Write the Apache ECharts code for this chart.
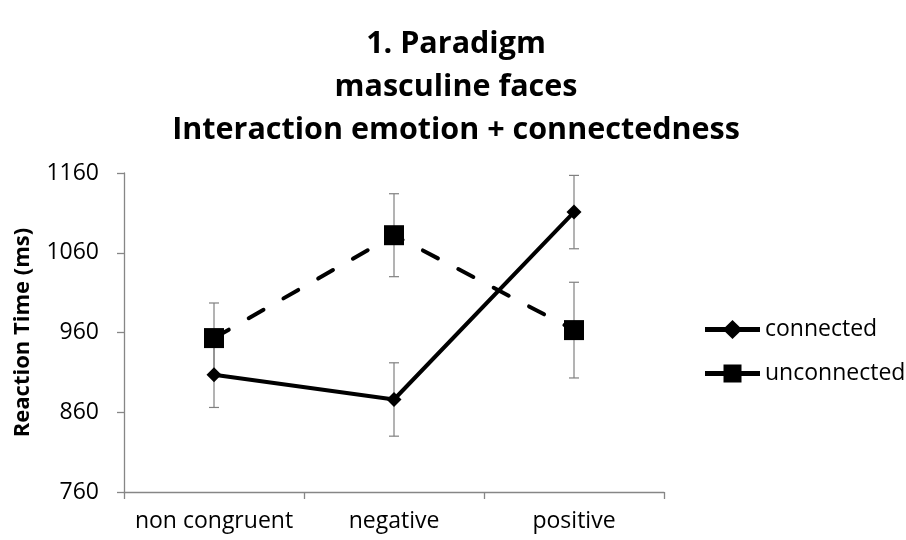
<!DOCTYPE html>
<html>
<head>
<meta charset="utf-8">
<script src="https://cdn.jsdelivr.net/npm/echarts@6/dist/echarts.min.js"></script>
<style>
  html, body { margin: 0; padding: 0; background: #fff; }
  #main { width: 906px; height: 540px; }
</style>
</head>
<body>
<div id="main"></div>
<script>
var categories = ['non congruent', 'negative', 'positive'];
var connected = [907, 876, 1111];
var connectedErr = [41, 46, 46];
var unconnected = [953, 1082, 963];
var unconnectedErr = [44, 52, 60];
var yTicks = [760, 860, 960, 1060, 1160];

var FONT = '"Open Sans"';

// legend icons: thick line with the marker in the middle (55 x 20 box)
var ICON_DIAMOND = 'path://M0 7.5H20.3L27.5 0.5L34.7 7.5H55V12.5H34.7L27.5 19.5L20.3 12.5H0Z';
var ICON_SQUARE = 'path://M0 7.5H18.5V1H36.5V7.5H55V12.5H36.5V19H18.5V12.5H0Z';

function errData(vals, errs) {
    return vals.map(function (v, i) {
        return [i, v - errs[i], v + errs[i]];
    });
}

// whiskers with small caps
function renderErr(params, api) {
    var x = api.value(0);
    var lo = api.coord([x, api.value(1)]);
    var hi = api.coord([x, api.value(2)]);
    var cap = 5;
    var style = { stroke: '#808080', lineWidth: 1.2 };
    return {
        type: 'group',
        children: [
            { type: 'line', shape: { x1: lo[0], y1: lo[1], x2: hi[0], y2: hi[1] }, style: style },
            { type: 'line', shape: { x1: lo[0] - cap, y1: lo[1], x2: lo[0] + cap, y2: lo[1] }, style: style },
            { type: 'line', shape: { x1: hi[0] - cap, y1: hi[1], x2: hi[0] + cap, y2: hi[1] }, style: style }
        ]
    };
}

var myChart = echarts.init(document.getElementById('main'));
var option = {
    animation: false,
    backgroundColor: '#fff',
    textStyle: { fontFamily: FONT },
    title: {
        text: '1. Paradigm\nmasculine faces\nInteraction emotion + connectedness',
        left: 451,
        textAlign: 'center',
        top: 18,
        textStyle: {
            fontFamily: FONT,
            fontSize: 30.5,
            fontWeight: 'bold',
            color: '#000',
            lineHeight: 43
        }
    },
    legend: {
        orient: 'vertical',
        left: 700,
        top: 313,
        itemWidth: 55,
        itemHeight: 20,
        itemGap: 21,
        textStyle: { fontFamily: FONT, fontSize: 23, color: '#000' },
        data: [
            { name: 'connected', icon: ICON_DIAMOND, itemStyle: { color: '#000' } },
            { name: 'unconnected', icon: ICON_SQUARE, itemStyle: { color: '#000' } }
        ]
    },
    grid: {
        left: 124,
        right: 242,
        top: 173,
        bottom: 48,
        containLabel: false
    },
    xAxis: {
        type: 'category',
        data: categories,
        boundaryGap: true,
        axisLine: { lineStyle: { color: '#868686', width: 1.3 } },
        axisTick: { show: true, interval: 0, length: 7, lineStyle: { color: '#868686', width: 1.3 } },
        axisLabel: { interval: 0, fontFamily: FONT, fontSize: 23, color: '#000', margin: 18 }
    },
    yAxis: {
        type: 'value',
        min: yTicks[0],
        max: yTicks[yTicks.length - 1],
        interval: 100,
        name: 'Reaction Time (ms)',
        nameLocation: 'middle',
        nameGap: 90,
        nameTextStyle: { fontFamily: FONT, fontSize: 22, fontWeight: 'bold', color: '#000' },
        axisLine: { show: true, lineStyle: { color: '#868686', width: 1.3 } },
        axisTick: { show: true, length: 7, lineStyle: { color: '#868686', width: 1.3 } },
        splitLine: { show: false },
        axisLabel: {
            fontFamily: FONT, fontSize: 23, color: '#000', margin: 25,
            formatter: function (v) { return String(v); }
        }
    },
    series: [
        {
            name: 'connectedErr',
            type: 'custom',
            renderItem: renderErr,
            data: errData(connected, connectedErr),
            encode: { x: 0, y: [1, 2] },
            z: 1,
            silent: true
        },
        {
            name: 'unconnectedErr',
            type: 'custom',
            renderItem: renderErr,
            data: errData(unconnected, unconnectedErr),
            encode: { x: 0, y: [1, 2] },
            z: 1,
            silent: true
        },
        {
            name: 'connected',
            type: 'line',
            data: connected,
            symbol: 'diamond',
            symbolSize: [15, 15],
            itemStyle: { color: '#000' },
            lineStyle: { color: '#000', width: 4, cap: 'round' },
            z: 3
        },
        {
            name: 'unconnected',
            type: 'line',
            data: unconnected,
            symbol: 'rect',
            symbolSize: 20,
            itemStyle: { color: '#000' },
            lineStyle: { color: '#000', width: 4, type: [17, 23], cap: 'round' },
            z: 3
        }
    ]
};
myChart.setOption(option);
</script>
</body>
</html>
